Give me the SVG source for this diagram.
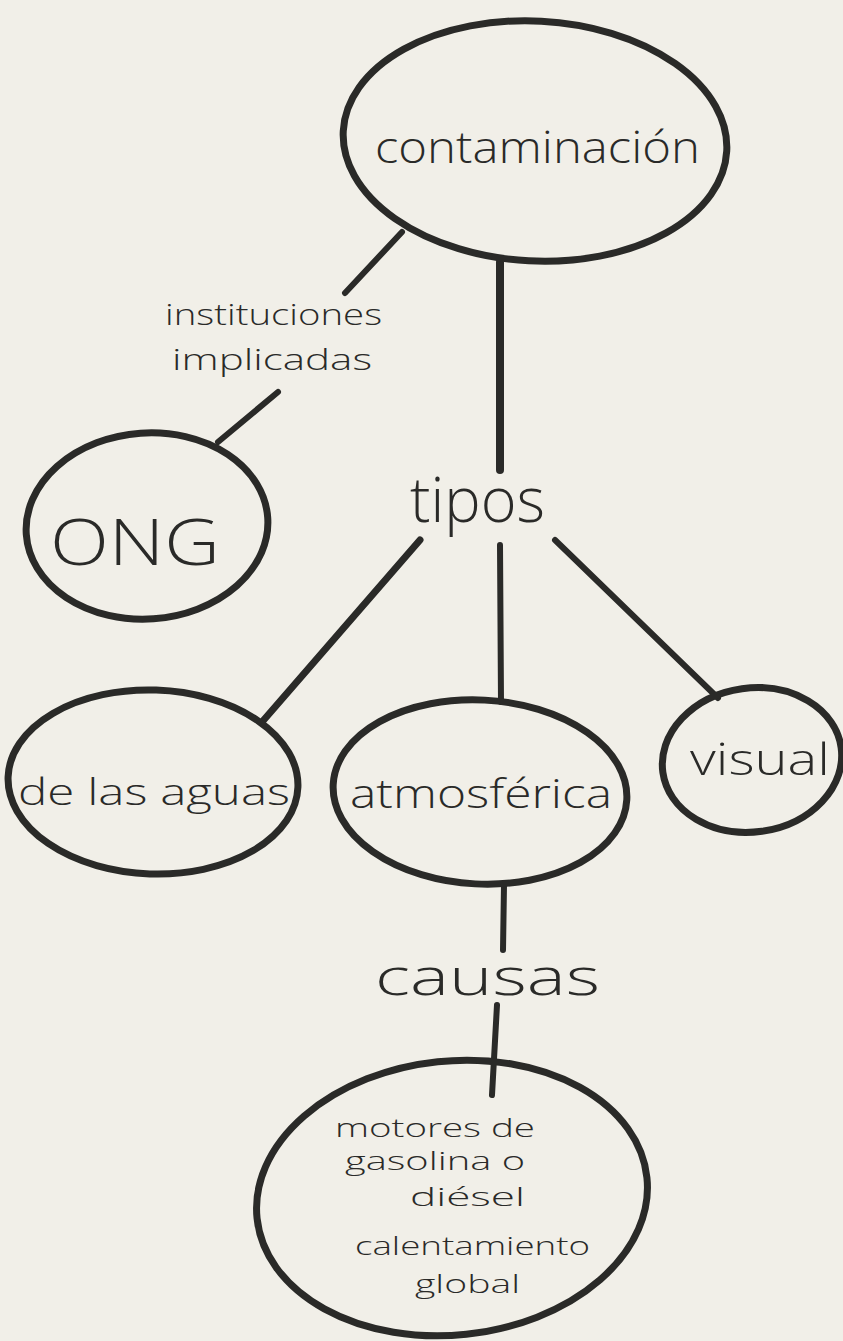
<svg xmlns="http://www.w3.org/2000/svg" width="843" height="1341" viewBox="0 0 843 1341">
<style>
.bg{fill:#f1efe8}
.node{fill:none;stroke:#2a2a28;stroke-width:7;stroke-linecap:round}
.edge{fill:none;stroke:#2a2a28;stroke-width:6;stroke-linecap:round}
.t{font-family:"Open Sans","Liberation Sans",sans-serif;font-weight:300;fill:#2a2a28}
</style>
<rect class="bg" x="0" y="0" width="843" height="1341"/>
<g id="connectors">
<line class="edge" x1="402" y1="232" x2="345" y2="293"/>
<line class="edge" x1="278" y1="392" x2="218" y2="442"/>
<line class="edge" x1="500" y1="262" x2="500" y2="470" style="stroke-width:8"/>
<line class="edge" x1="420" y1="540" x2="262" y2="722" style="stroke-width:7"/>
<line class="edge" x1="500" y1="545" x2="501" y2="702"/>
<line class="edge" x1="555" y1="540" x2="718" y2="698"/>
<line class="edge" x1="504" y1="885" x2="503" y2="950"/>
<line class="edge" x1="497" y1="1005" x2="492" y2="1095"/>
</g>
<g id="label-instituciones">
<text class="t" x="165" y="325" font-size="30" textLength="217" lengthAdjust="spacingAndGlyphs">instituciones</text>
<text class="t" x="172" y="370" font-size="30" textLength="200" lengthAdjust="spacingAndGlyphs">implicadas</text>
</g>
<g id="label-tipos">
<text class="t" x="410" y="522" font-size="62" textLength="135" lengthAdjust="spacingAndGlyphs">tipos</text>
</g>
<g id="label-causas">
<text class="t" x="375" y="995" font-size="52" textLength="225" lengthAdjust="spacingAndGlyphs">causas</text>
</g>
<g id="node-contaminacion">
<ellipse class="node" cx="535" cy="141" rx="192" ry="120" transform="rotate(3 535 141)"/>
<text class="t" x="375" y="163" font-size="44" textLength="325" lengthAdjust="spacingAndGlyphs">contaminación</text>
</g>
<g id="node-ong">
<ellipse class="node" cx="147" cy="526" rx="121" ry="93" transform="rotate(-4 147 526)"/>
<text class="t" x="50" y="565" font-size="64" textLength="170" lengthAdjust="spacingAndGlyphs">ONG</text>
</g>
<g id="node-aguas">
<ellipse class="node" cx="153" cy="782" rx="145" ry="92" transform="rotate(2 153 782)"/>
<text class="t" x="18" y="805" font-size="36" textLength="272" lengthAdjust="spacingAndGlyphs">de las aguas</text>
</g>
<g id="node-atmosferica">
<ellipse class="node" cx="480" cy="792" rx="147" ry="92" transform="rotate(3 480 792)"/>
<text class="t" x="350" y="808" font-size="40" textLength="262" lengthAdjust="spacingAndGlyphs">atmosférica</text>
</g>
<g id="node-visual">
<ellipse class="node" cx="752" cy="760" rx="90" ry="72" transform="rotate(-8 752 760)"/>
<text class="t" x="690" y="775" font-size="44" textLength="140" lengthAdjust="spacingAndGlyphs">visual</text>
</g>
<g id="node-motores">
<ellipse class="node" cx="452" cy="1198" rx="196" ry="137" transform="rotate(-6 452 1198)"/>
<text class="t" x="335" y="1137" font-size="25" textLength="200" lengthAdjust="spacingAndGlyphs">motores de</text>
<text class="t" x="345" y="1170" font-size="25" textLength="180" lengthAdjust="spacingAndGlyphs">gasolina o</text>
<text class="t" x="410" y="1206" font-size="25" textLength="115" lengthAdjust="spacingAndGlyphs">diésel</text>
<text class="t" x="355" y="1255" font-size="25" textLength="235" lengthAdjust="spacingAndGlyphs">calentamiento</text>
<text class="t" x="415" y="1293" font-size="25" textLength="105" lengthAdjust="spacingAndGlyphs">global</text>
</g>
</svg>
